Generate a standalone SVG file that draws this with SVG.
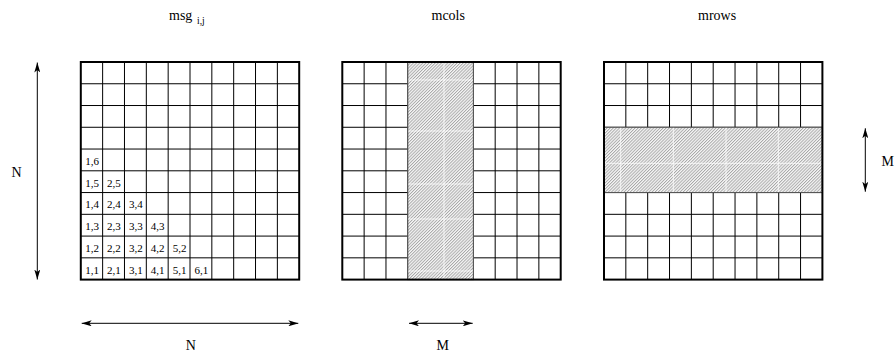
<svg xmlns="http://www.w3.org/2000/svg" width="895" height="354" viewBox="0 0 895 354">
<style>
  text { font-family: "Liberation Serif", "Times New Roman", serif; fill: #000; }
  .title { font-size: 14px; }
  .sub { font-size: 9.5px; }
  .lbl { font-size: 14px; }
  .cell { font-size: 11px; }
  .border { fill: none; stroke: #000; stroke-width: 2; }
  .hatch { fill: url(#hatch); stroke: #555; stroke-width: 1; }
  line.tile { stroke: #fff; stroke-width: 1; opacity: 0.8; }
  .arrow { stroke: #000; stroke-width: 1; fill: none; marker-start: url(#ah); marker-end: url(#ah); }
</style>
<defs>
  <pattern id="hatch" patternUnits="userSpaceOnUse" width="2.2" height="2.2" patternTransform="rotate(45)">
    <rect width="2.2" height="2.2" fill="#f6f6f6"/>
    <line x1="0.5" y1="0" x2="0.5" y2="2.2" stroke="#9a9a9a" stroke-width="0.8"/>
  </pattern>
  <marker id="ah" viewBox="0 0 10 6" refX="10" refY="3" markerWidth="10" markerHeight="6" markerUnits="userSpaceOnUse" orient="auto-start-reverse">
    <path d="M0,0 L10,3 L0,6 L2.5,3 z" fill="#000"/>
  </marker>
  <g id="gridlines" stroke="#000" stroke-width="1">
    <line x1="21.84" y1="0" x2="21.84" y2="217.6"/>
    <line x1="43.68" y1="0" x2="43.68" y2="217.6"/>
    <line x1="65.52" y1="0" x2="65.52" y2="217.6"/>
    <line x1="87.36" y1="0" x2="87.36" y2="217.6"/>
    <line x1="109.2" y1="0" x2="109.2" y2="217.6"/>
    <line x1="131.04" y1="0" x2="131.04" y2="217.6"/>
    <line x1="152.88" y1="0" x2="152.88" y2="217.6"/>
    <line x1="174.72" y1="0" x2="174.72" y2="217.6"/>
    <line x1="196.56" y1="0" x2="196.56" y2="217.6"/>
    <line x1="0" y1="21.76" x2="218.4" y2="21.76"/>
    <line x1="0" y1="43.52" x2="218.4" y2="43.52"/>
    <line x1="0" y1="65.28" x2="218.4" y2="65.28"/>
    <line x1="0" y1="87.04" x2="218.4" y2="87.04"/>
    <line x1="0" y1="108.8" x2="218.4" y2="108.8"/>
    <line x1="0" y1="130.56" x2="218.4" y2="130.56"/>
    <line x1="0" y1="152.32" x2="218.4" y2="152.32"/>
    <line x1="0" y1="174.08" x2="218.4" y2="174.08"/>
    <line x1="0" y1="195.84" x2="218.4" y2="195.84"/>
  </g>
</defs>

<g id="titles">
  <text class="title" x="169" y="20">msg</text>
  <text class="sub" x="197" y="24">i,j</text>
  <text class="title" x="431.5" y="20">mcols</text>
  <text class="title" x="698" y="20">mrows</text>
</g>

<g id="grid-msg" transform="translate(80.8,62)">
  <rect width="218.4" height="217.6" fill="#fff"/>
  <use href="#gridlines"/>
  <rect class="border" width="218.4" height="217.6"/>
  <g class="cells">
    <text class="cell" x="4.5" y="102.8">1,6</text>
    <text class="cell" x="4.5" y="124.6">1,5</text>
    <text class="cell" x="26.3" y="124.6">2,5</text>
    <text class="cell" x="4.5" y="146.3">1,4</text>
    <text class="cell" x="26.3" y="146.3">2,4</text>
    <text class="cell" x="48.2" y="146.3">3,4</text>
    <text class="cell" x="4.5" y="168.1">1,3</text>
    <text class="cell" x="26.3" y="168.1">2,3</text>
    <text class="cell" x="48.2" y="168.1">3,3</text>
    <text class="cell" x="70" y="168.1">4,3</text>
    <text class="cell" x="4.5" y="189.8">1,2</text>
    <text class="cell" x="26.3" y="189.8">2,2</text>
    <text class="cell" x="48.2" y="189.8">3,2</text>
    <text class="cell" x="70" y="189.8">4,2</text>
    <text class="cell" x="91.9" y="189.8">5,2</text>
    <text class="cell" x="4.5" y="211.6">1,1</text>
    <text class="cell" x="26.3" y="211.6">2,1</text>
    <text class="cell" x="48.2" y="211.6">3,1</text>
    <text class="cell" x="70" y="211.6">4,1</text>
    <text class="cell" x="91.9" y="211.6">5,1</text>
    <text class="cell" x="113.7" y="211.6">6,1</text>
  </g>
</g>

<g id="grid-mcols" transform="translate(342.3,62)">
  <rect width="218.4" height="217.6" fill="#fff"/>
  <use href="#gridlines"/>
  <rect class="hatch" x="65.52" y="0" width="65.52" height="217.6"/>
  <line class="tile" x1="101.7" y1="1" x2="101.7" y2="216.6"/>
  <line class="tile" x1="66" y1="18" x2="130.5" y2="18"/>
  <line class="tile" x1="66" y1="69" x2="130.5" y2="69"/>
  <line class="tile" x1="66" y1="122" x2="130.5" y2="122"/>
  <line class="tile" x1="66" y1="157" x2="130.5" y2="157"/>
  <line class="tile" x1="66" y1="209" x2="130.5" y2="209"/>
  <rect class="border" width="218.4" height="217.6"/>
</g>

<g id="grid-mrows" transform="translate(604,62)">
  <rect width="218.4" height="217.6" fill="#fff"/>
  <use href="#gridlines"/>
  <rect class="hatch" x="0" y="65.28" width="218.4" height="65.28"/>
  <line class="tile" x1="16.7" y1="65.8" x2="16.7" y2="130"/>
  <line class="tile" x1="69.3" y1="65.8" x2="69.3" y2="130"/>
  <line class="tile" x1="122" y1="65.8" x2="122" y2="130"/>
  <line class="tile" x1="174.3" y1="65.8" x2="174.3" y2="130"/>
  <line class="tile" x1="1" y1="101.3" x2="217.4" y2="101.3"/>
  <rect class="border" width="218.4" height="217.6"/>
</g>

<g id="connectors">
  <line class="arrow" x1="37.3" y1="62.5" x2="37.3" y2="279.5"/>
  <line class="arrow" x1="865.3" y1="128.3" x2="865.3" y2="191.7"/>
  <line class="arrow" x1="81.7" y1="323.3" x2="298.3" y2="323.3"/>
  <line class="arrow" x1="409" y1="323.3" x2="472.7" y2="323.3"/>
</g>

<g id="dimension-labels">
  <text class="lbl" x="11.5" y="176.5">N</text>
  <text class="lbl" x="881.5" y="166">M</text>
  <text class="lbl" x="185.8" y="350">N</text>
  <text class="lbl" x="436.5" y="350">M</text>
</g>
</svg>
